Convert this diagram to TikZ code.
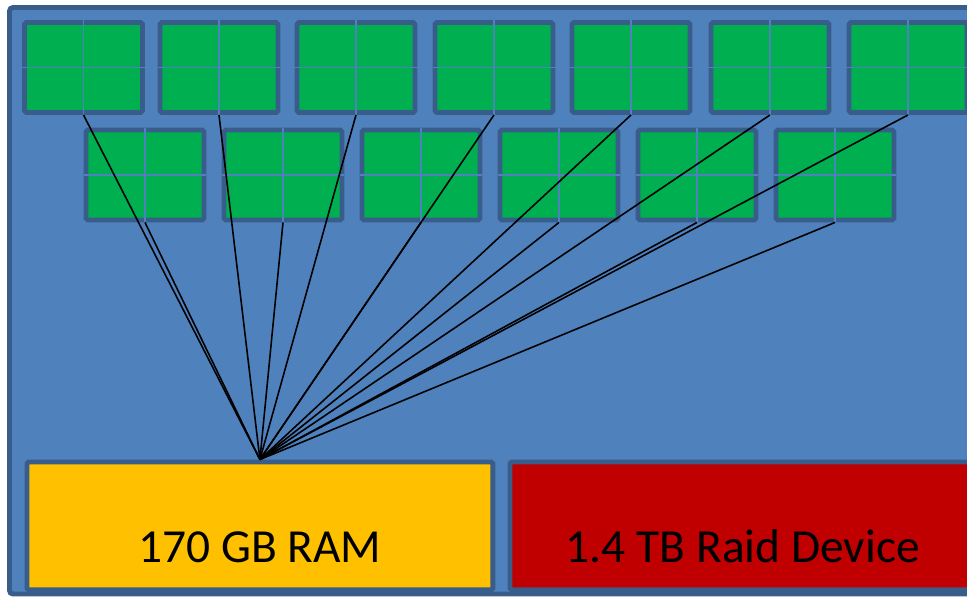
\documentclass[tikz,border=0pt]{standalone}
\usepackage{fontspec}
\setmainfont{Carlito}
\definecolor{boardblue}{RGB}{79,129,189}
\definecolor{rimblue}{RGB}{56,93,138}
\definecolor{coregreen}{RGB}{0,176,80}
\definecolor{ramyellow}{RGB}{255,192,0}
\definecolor{raidred}{RGB}{192,0,0}
\tikzset{%
    core/.style={%
        draw=rimblue, fill=coregreen, line width=2.8pt, rounded corners=1pt,
        minimum width=2.36cm, minimum height=1.8cm, inner sep=0pt,
        append after command={%
            (\tikzlastnode.north) edge[draw=boardblue, line width=0.8pt] (\tikzlastnode.south)
            (\tikzlastnode.west) edge[draw=boardblue, line width=0.8pt] (\tikzlastnode.east)}
    },
    store/.style={%
        draw=rimblue, line width=2.8pt, rounded corners=1pt, anchor=north west,
        minimum width=9.32cm, inner sep=0pt, text height=2.01cm, text depth=0.55cm,
        font=\fontsize{27pt}{32pt}\selectfont
    },
    wire/.style={black, line width=0.9pt}
}

\begin{document}
\begin{tikzpicture}[x=0.02cm, y=-0.02cm]
    \useasboundingbox (0,0) rectangle (967,596);
    \draw[fill=boardblue, draw=rimblue, line width=2.8pt, rounded corners=2pt] (9.5,7.5) rectangle (980,594);
    % upper row of cores
    \node[core] (core1) at (83.5,67.5) {};
    \node[core] (core2) at (219,67.5) {};
    \node[core] (core3) at (356,67.5) {};
    \node[core] (core4) at (494,67.5) {};
    \node[core] (core5) at (631,67.5) {};
    \node[core] (core6) at (770,67.5) {};
    \node[core] (core7) at (908,67.5) {};
    % lower row of cores
    \node[core] (core8) at (145,175) {};
    \node[core] (core9) at (283,175) {};
    \node[core] (core10) at (421,175) {};
    \node[core] (core11) at (559,175) {};
    \node[core] (core12) at (697,175) {};
    \node[core] (core13) at (835,175) {};
    % memory and disk
    \node[store, fill=ramyellow] (ram) at (24.5,459.5) {170 GB RAM};
    \node[store, fill=raidred] (raid) at (507.5,459.5) {1.4 TB Raid Device};
    % every core talks to the shared memory
    \draw[wire] (core1.south) -- (ram.north);
    \draw[wire] (core2.south) -- (ram.north);
    \draw[wire] (core3.south) -- (ram.north);
    \draw[wire] (core4.south) -- (ram.north);
    \draw[wire] (core5.south) -- (ram.north);
    \draw[wire] (core6.south) -- (ram.north);
    \draw[wire] (core7.south) -- (ram.north);
    \draw[wire] (core8.south) -- (ram.north);
    \draw[wire] (core9.south) -- (ram.north);
    \draw[wire] (core10.south) -- (ram.north);
    \draw[wire] (core11.south) -- (ram.north);
    \draw[wire] (core12.south) -- (ram.north);
    \draw[wire] (core13.south) -- (ram.north);
\end{tikzpicture}
\end{document}
